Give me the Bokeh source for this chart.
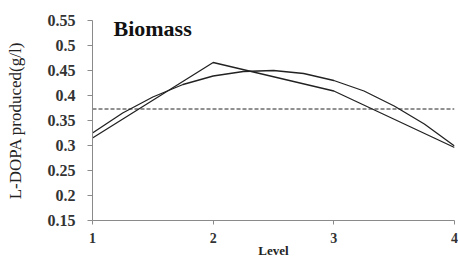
from bokeh.plotting import figure
from bokeh.models import FixedTicker, Range1d, Label
from bokeh.embed import file_html
from bokeh.resources import INLINE

# Data
levels = [1, 2, 3, 4]
observed = [0.315, 0.466, 0.409, 0.296]
fit_x = [1, 1.25, 1.5, 1.75, 2, 2.25, 2.5, 2.75, 3, 3.25, 3.5, 3.75, 4]
fit_y = [0.325, 0.365, 0.397, 0.422, 0.439, 0.448, 0.450, 0.444, 0.430, 0.409, 0.379, 0.343, 0.299]
mean_x = [1, 4]
mean_y = [0.373, 0.373]
y_ticks = [0.15, 0.2, 0.25, 0.3, 0.35, 0.4, 0.45, 0.5, 0.55]
y_tick_labels = ["0.15", "0.2", "0.25", "0.3", "0.35", "0.4", "0.45", "0.5", "0.55"]
x_ticks = [1, 2, 3, 4]
title_text = "Biomass"
x_title = "Level"

SERIF = "Liberation Serif"

p = figure(frame_width=362, frame_height=200, output_backend="svg", toolbar_location=None,
           x_range=Range1d(1, 4), y_range=Range1d(0.15, 0.55),
           min_border_left=92, min_border_right=4, min_border_top=20, min_border_bottom=41)
p.outline_line_color = None
p.xgrid.visible = False
p.ygrid.visible = False

p.line(fit_x, fit_y, line_color="#222222", line_width=1.3)
p.line(levels, observed, line_color="#222222", line_width=1.3)
p.line(mean_x, mean_y, line_color="#222222", line_width=1, line_dash="4 2")

p.yaxis.ticker = FixedTicker(ticks=y_ticks)
p.yaxis.major_label_overrides = {t: l for t, l in zip(y_ticks, y_tick_labels)}
p.xaxis.ticker = FixedTicker(ticks=x_ticks)

for ax in (p.xaxis[0], p.yaxis[0]):
    ax.axis_line_color = "#8a8a8a"
    ax.major_tick_line_color = "#8a8a8a"
    ax.minor_tick_line_color = None
    ax.major_tick_in = 0
    ax.major_tick_out = 5
    ax.major_label_text_font = SERIF
    ax.major_label_text_font_style = "bold"
    ax.major_label_text_font_size = "16px"
    ax.major_label_text_color = "#333333"
    ax.axis_label_text_font = SERIF
    ax.axis_label_text_color = "#222222"

p.xaxis.major_tick_out = 4
p.xaxis.major_label_text_font_size = "14px"
p.yaxis.major_label_standoff = 12
p.xaxis.major_label_standoff = 8
p.yaxis.axis_label = "L-DOPA produced(g/l)"
p.yaxis.axis_label_text_font_style = "normal"
p.yaxis.axis_label_text_font_size = "17px"
p.yaxis.axis_label_standoff = 20
p.xaxis.axis_label = x_title
p.xaxis.axis_label_text_font_style = "bold"
p.xaxis.axis_label_text_font_size = "13px"
p.xaxis.axis_label_standoff = -3

p.add_layout(Label(x=1.174, y=0.534, text=title_text, text_font=SERIF,
                   text_font_style="bold", text_font_size="22px",
                   text_color="#111111", text_baseline="alphabetic"))

open("out.html", "w").write(file_html(p, INLINE))
